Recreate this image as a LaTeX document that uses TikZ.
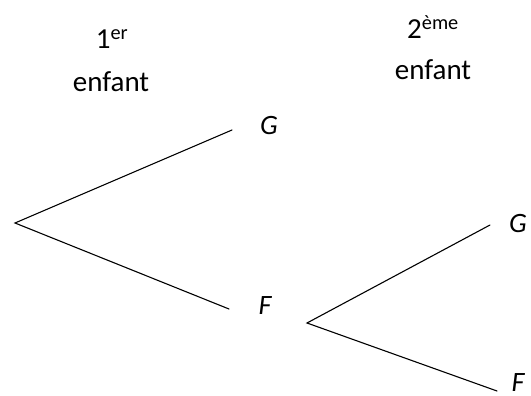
\documentclass[tikz,border=0pt]{standalone}
\usepackage{fontspec}
\setmainfont{Carlito}
\begin{document}
\begin{tikzpicture}[x=1pt,y=-1pt,
  lbl/.style={font=\fontsize{29}{34}\selectfont, inner sep=0pt, anchor=base},
  leaf/.style={font=\fontsize{28}{32}\selectfont\itshape, inner sep=0pt, anchor=base, text depth=0pt},
  branch/.style={line width=1.1pt, line cap=round}]
\useasboundingbox (0,0) rectangle (531,396);
\node[lbl] (h1) at (112,49) {1\textsuperscript{er}};
\node[lbl] (e1) at (111,92) {enfant};
\node[lbl] (h2) at (433,39) {2\textsuperscript{ème}};
\node[lbl] (e2) at (433,80) {enfant};
\node[leaf] (G1) at (269,135) {G};
\node[leaf] (F1) at (265,314) {F};
\node[leaf] (G2) at (518,233) {G};
\node[leaf] (F2) at (518,391) {F};
\coordinate (r) at (15,223);
\coordinate (g1) at (232,130);
\coordinate (f1) at (229,309);
\coordinate (r2) at (307,323);
\coordinate (g2) at (490,225);
\coordinate (f2) at (497,391);
\draw[branch] (g1) -- (r) -- (f1);
\draw[branch] (g2) -- (r2) -- (f2);
\end{tikzpicture}
\end{document}
